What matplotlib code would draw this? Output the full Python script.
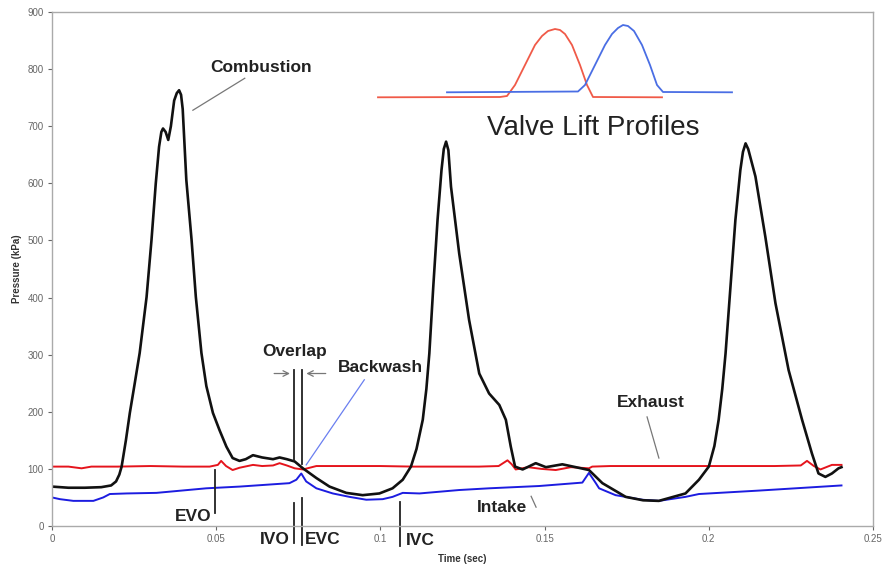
import numpy as np
import matplotlib
matplotlib.use('Agg')
import matplotlib.pyplot as plt

plt.rcParams['font.family'] = ['Liberation Sans', 'DejaVu Sans']

# cylinder pressure (combustion) trace
t_cyl = [0.000, 0.005, 0.010, 0.015, 0.018, 0.0195, 0.0205, 0.0212, 0.0225, 0.0237,
         0.0252, 0.0267, 0.0288, 0.0303, 0.0316, 0.0326, 0.0333, 0.0338, 0.0346, 0.0354,
         0.0362, 0.0372, 0.0380, 0.0387, 0.0393, 0.0398, 0.0409, 0.0425, 0.0438, 0.0455,
         0.0470, 0.0490, 0.0510, 0.0531, 0.0550, 0.0571, 0.0590, 0.0612, 0.0640, 0.0673,
         0.0693, 0.0715, 0.0739, 0.0764, 0.0805, 0.0845, 0.0896, 0.0946, 0.0997, 0.1037,
         0.1068, 0.1093, 0.1110, 0.1129, 0.1140, 0.1149, 0.1161, 0.1174, 0.1186, 0.1193,
         0.1200, 0.1207, 0.1215, 0.1240, 0.1270, 0.1301, 0.1331, 0.1362, 0.1382, 0.1397,
         0.1410, 0.1433, 0.1473, 0.1504, 0.1554, 0.1595, 0.1635, 0.1676, 0.1747, 0.1800,
         0.1848, 0.1929, 0.1970, 0.2000, 0.2017, 0.2030, 0.2041, 0.2051, 0.2066, 0.2081,
         0.2096, 0.2104, 0.2112, 0.2120, 0.2142, 0.2172, 0.2203, 0.2243, 0.2284, 0.2314,
         0.2334, 0.2355, 0.2375, 0.2395, 0.2404]
p_cyl = [69, 67, 67, 68, 71, 78, 90, 104, 150, 198,
         250, 303, 401, 501, 600, 664, 690, 696, 690, 676,
         700, 745, 758, 763, 755, 730, 606, 501, 401, 303,
         245, 198, 168, 139, 119, 114, 117, 124, 120, 117,
         120, 117, 113, 101, 84, 69, 58, 54, 57, 66,
         81, 104, 135, 186, 240, 302, 419, 536, 623, 660,
         673, 658, 594, 477, 361, 267, 232, 212, 186, 139,
         104, 99, 110, 103, 108, 103, 98, 75, 51, 45,
         44, 57, 81, 104, 140, 186, 240, 302, 419, 536,
         623, 655, 670, 660, 612, 507, 390, 273, 186, 127,
         92, 86, 92, 101, 103]

# exhaust port pressure
t_exh = [0.000, 0.005, 0.009, 0.012, 0.020, 0.030, 0.040, 0.048, 0.0505, 0.0515,
         0.0530, 0.0550, 0.0571, 0.0612, 0.0640, 0.0673, 0.0693, 0.0715, 0.0739, 0.0764,
         0.0805, 0.090, 0.100, 0.110, 0.120, 0.130, 0.136, 0.1387, 0.1400, 0.1412,
         0.1450, 0.1490, 0.1534, 0.1580, 0.1635, 0.1645, 0.170, 0.180, 0.190, 0.200,
         0.210, 0.220, 0.228, 0.2299, 0.2320, 0.2340, 0.2375, 0.2404]
p_exh = [104, 104, 101, 104, 104, 105, 104, 104, 107, 114,
         105, 98, 102, 107, 105, 106, 110, 106, 101, 99,
         105, 105, 105, 104, 104, 104, 105, 115, 108, 99,
         103, 100, 98, 103, 101, 104, 105, 105, 105, 105,
         105, 105, 106, 114, 105, 99, 107, 107]

# intake port pressure
t_int = [0.000, 0.0024, 0.0065, 0.0126, 0.0156, 0.0176, 0.0227, 0.0318, 0.047, 0.0571,
         0.0723, 0.0744, 0.0759, 0.0774, 0.0805, 0.0855, 0.0906, 0.0957, 0.1007, 0.1037,
         0.1068, 0.1119, 0.1240, 0.1331, 0.1483, 0.1615, 0.1635, 0.1656, 0.1666, 0.1716,
         0.1797, 0.1848, 0.1929, 0.1970, 0.2152, 0.2404]
p_int = [50, 47, 44, 44, 50, 56, 57, 58, 66, 69,
         75, 81, 92, 78, 66, 57, 51, 46, 47, 51,
         58, 57, 63, 66, 70, 76, 93, 75, 66, 54,
         46, 44, 51, 56, 62, 71]

# valve lift profiles (inset, crank angle vs lift)
exh_ang = [0, 122, 129, 137, 147, 157, 164, 170, 177, 182, 187, 194, 202, 209, 215, 284]
exh_lift = [2.7, 3, 4, 15, 35, 55, 64, 69, 71, 70, 66, 55, 35, 15, 3, 2.7]
int_ang = [69, 200, 207, 217, 227, 234, 240, 245, 250, 256, 264, 272, 279, 285, 354]
int_lift = [7.7, 8.5, 15, 35, 55, 66, 72, 75, 74, 69, 55, 35, 15, 8, 7.7]

# valve event times
t_evo = 0.0497
t_ivo = 0.0736
t_evc = 0.0761
t_ivc = 0.1061

xticks = [0, 0.05, 0.1, 0.15, 0.2, 0.25]
xlabels = ['0', '0.05', '0.1', '0.15', '0.2', '0.25']
yticks = list(range(0, 901, 100))

fig = plt.figure(figsize=(8.82, 5.68), dpi=100)
ax = fig.add_axes([52/882, 42/568, 821/882, 514/568])

ax.plot(t_exh, p_exh, color='#e5141c', lw=1.4)
ax.plot(t_int, p_int, color='#1c1ce0', lw=1.4)
ax.plot(t_cyl, p_cyl, color='#111111', lw=1.9)

ax.set_xlim(0, 0.25)
ax.set_ylim(0, 900)
ax.set_xticks(xticks)
ax.set_xticklabels(xlabels)
ax.set_yticks(yticks)
ax.tick_params(labelsize=7, colors='#666666', length=3, width=0.8, pad=3)
for s in ax.spines.values():
    s.set_color('#aaaaaa')
    s.set_linewidth(1.0)

ax.set_xlabel('Time (sec)', fontsize=7, fontweight='bold', color='#333333')
ax.set_ylabel('Pressure (kPa)', fontsize=7, fontweight='bold', color='#333333')
ax.xaxis.set_label_coords(0.5, -0.054)
ax.yaxis.set_label_coords(-0.036, 0.5)

lab = dict(fontsize=12.5, fontweight='bold', color='#222222', ha='center', va='center')
ax.text(0.0638, 802, 'Combustion', **lab)
ax.plot([0.0587, 0.0429], [784, 728], color='#777777', lw=0.9)
ax.text(0.0739, 305, 'Overlap', **lab)
ax.text(0.1000, 278, 'Backwash', **lab)
ax.plot([0.0951, 0.0774], [256, 107], color='#6a7ff0', lw=0.9)
ax.text(0.1823, 216, 'Exhaust', **lab)
ax.plot([0.1812, 0.1848], [191, 119], color='#777777', lw=0.9)
ax.text(0.1369, 32, 'Intake', **lab)
ax.plot([0.1459, 0.1474], [52, 33], color='#777777', lw=0.9)

ax.annotate('', xy=(0.0733, 267), xytext=(0.0668, 267),
            arrowprops=dict(arrowstyle='->', color='#777777', lw=0.9))
ax.annotate('', xy=(0.0766, 267), xytext=(0.0842, 267),
            arrowprops=dict(arrowstyle='->', color='#777777', lw=0.9))

mk = dict(color='#222222', lw=1.3, clip_on=False)
ax.plot([t_ivo, t_ivo], [273, 116], **mk)
ax.plot([t_evc, t_evc], [273, 108], **mk)
ax.plot([t_ivo, t_ivo], [40, -30], **mk)
ax.plot([t_evc, t_evc], [49, -33], **mk)
ax.plot([t_evo, t_evo], [98, 22], **mk)
ax.plot([t_ivc, t_ivc], [42, -35], **mk)

ev = dict(fontsize=12.5, fontweight='bold', color='#222222', va='center')
ax.text(0.0485, 17, 'EVO', ha='right', **ev)
ax.text(0.0723, -24, 'IVO', ha='right', **ev)
ax.text(0.0770, -24, 'EVC', ha='left', **ev)
ax.text(0.1078, -25, 'IVC', ha='left', **ev)

ax.text(0.1647, 697, 'Valve Lift Profiles', fontsize=20, color='#222222',
        ha='center', va='center')

ins = fig.add_axes([378/882, 468/568, 354/882, 80/568])
ins.plot(exh_ang, exh_lift, color='#f05a48', lw=1.3, clip_on=False)
ins.plot(int_ang, int_lift, color='#4a6ee4', lw=1.3, clip_on=False)
ins.set_xlim(0, 354)
ins.set_ylim(0, 80)
ins.axis('off')

fig.savefig('out.png', dpi=100)
